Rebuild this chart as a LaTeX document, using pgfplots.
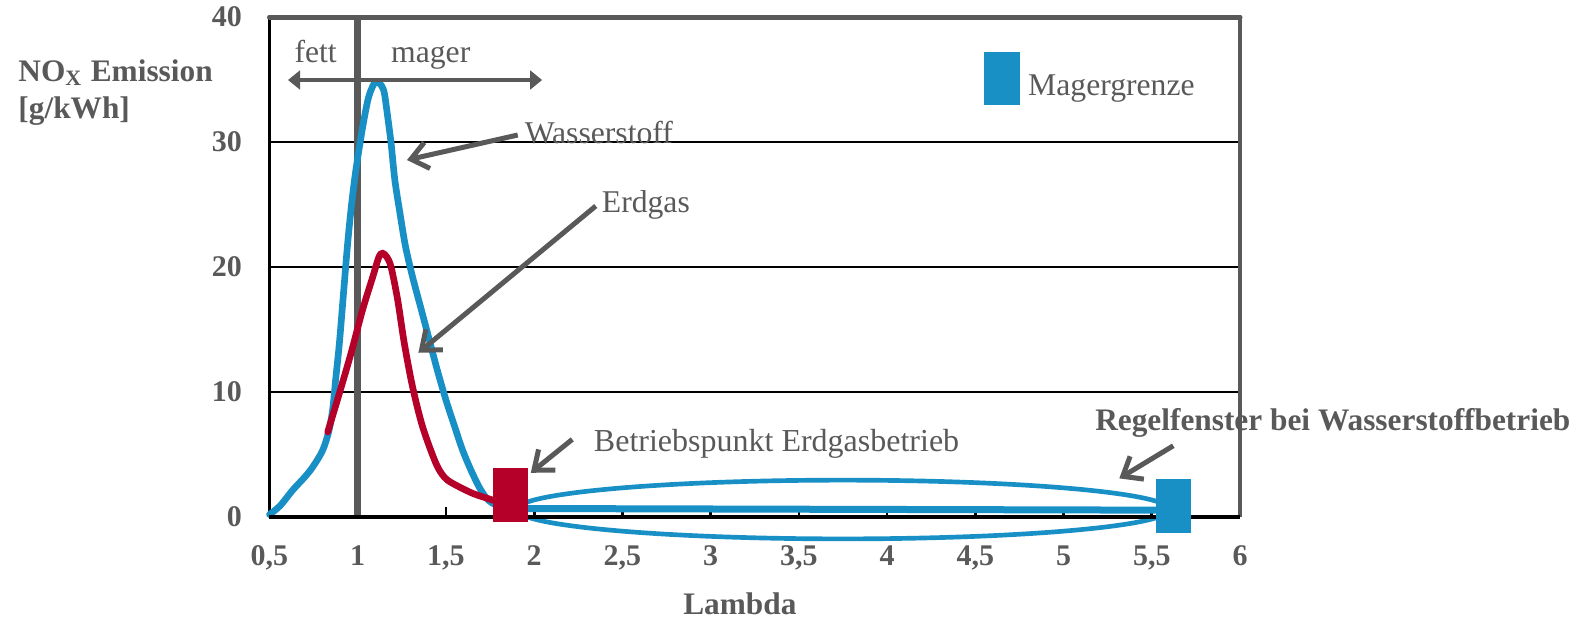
\documentclass[border=0pt]{standalone}
\usepackage{fontspec}
\setmainfont{Liberation Serif}
\usepackage{pgfplots}
\pgfplotsset{compat=1.18}
\usetikzlibrary{arrows.meta}
\definecolor{hblue}{RGB}{24,144,198}
\definecolor{ered}{RGB}{181,0,42}
\definecolor{tgray}{RGB}{89,89,89}
\begin{document}
\begin{tikzpicture}
\useasboundingbox (-80.85pt,-30.3pt) rectangle (397.05pt,155.1pt);
\begin{axis}[
  at={(0,0)}, anchor=south west,
  scale only axis, width=291.15pt, height=150pt,
  xmin=0.5, xmax=6, ymin=0, ymax=40,
  clip=false,
  axis line style={draw=none},
  xtick={0.5,1,1.5,2,2.5,3,3.5,4,4.5,5,5.5,6},
  xticklabels={{0,5},1,{1,5},2,{2,5},3,{3,5},4,{4,5},5,{5,5},6},
  ytick={0,10,20,30,40},
  yticklabels={0,10,20,30,40},
  tick pos=left,
  tick align=inside,
  major tick length=3pt,
  xtick style={black, line width=0.8pt},
  ytick style={draw=none},
  ymajorgrids, grid style={black, line width=0.7pt},
  tick label style={font=\fontsize{9}{10}\selectfont\bfseries, text=tgray},
  xticklabel style={anchor=north, yshift=-8.4pt, inner sep=0pt},
  yticklabel style={anchor=east, xshift=-8.1pt, inner sep=0pt},
  /pgf/number format/assume math mode=true,
]
% frame
\draw[black, line width=0.9pt] (rel axis cs:0,0) -- (rel axis cs:0,1);
\draw[tgray, line width=1.3pt] (rel axis cs:1,0) -- (rel axis cs:1,1);
\draw[tgray, line width=1.5pt, line cap=round] (rel axis cs:0,1) -- (rel axis cs:1,1);
% stoichiometric line
\draw[tgray, line width=2pt] (axis cs:1,0) -- (axis cs:1,40);
% Wasserstoff
\addplot[hblue, line width=2pt, smooth, line cap=round] coordinates {
(0.5,0.2) (0.56,0.9) (0.632,2.16) (0.70,3.2) (0.745,4.0) (0.80,5.3) (0.835,6.8)
(0.858,8.6) (0.875,11) (0.896,13.9) (0.92,18) (0.943,21.9) (0.965,25) (0.99,27.8)
(1.028,31.2) (1.06,33.5) (1.09,34.6) (1.113,34.8) (1.135,34.5) (1.151,33.9)
(1.17,32) (1.189,29.9) (1.21,27) (1.236,24.6) (1.27,21.7) (1.311,19.2) (1.36,16.6)
(1.405,14.2) (1.45,11.8) (1.5,9.36) (1.55,7.2) (1.594,5.36) (1.64,3.8) (1.688,2.4)
(1.73,1.5) (1.764,1.1) (1.82,0.75)};
% Erdgas
\addplot[ered, line width=2pt, smooth, line cap=round] coordinates {
(0.83,6.8) (0.896,9.9) (0.962,13.1) (1.028,16.6) (1.085,19.2) (1.12,20.8)
(1.141,21.1) (1.165,20.8) (1.189,20.0) (1.226,17.4) (1.264,13.9) (1.311,10.4)
(1.368,7.2) (1.443,4.3) (1.49,3.2) (1.537,2.7) (1.65,1.9) (1.764,1.36) (1.82,1.1)};
% Betriebspunkt Erdgas
\addplot[ered, only marks, mark=square*, mark size=7.9pt,
  mark options={solid, fill=ered, draw=ered, line width=0.2pt, xscale=0.65}] coordinates {(1.863,1.76)};
% Regelfenster ellipse
\draw[hblue, line width=1.4pt] (axis cs:3.75,0.6) ellipse [x radius=1.85, y radius=2.35];
\addplot[hblue, line width=2.1pt, line cap=round] coordinates {(1.95,0.68) (5.52,0.55)};
% Magergrenze H2
\addplot[hblue, only marks, mark=square*, mark size=7.9pt,
  mark options={solid, fill=hblue, draw=hblue, line width=0.2pt, xscale=0.65}] coordinates {(5.62,0.89)};
% legend marker
\addplot[hblue, only marks, mark=square*, mark size=7.9pt,
  mark options={solid, fill=hblue, draw=hblue, line width=0.2pt, xscale=0.65}] coordinates {(4.65,35.1)};
\node[anchor=base west, inner sep=0pt, text=tgray, font=\fontsize{9.5}{11}\selectfont] at (axis cs:4.796,33.76) {Magergrenze};
% bottom axis line
\draw[black, line width=1.1pt] (rel axis cs:0,0) -- (rel axis cs:1,0);
% fett / mager
\draw[tgray, line width=1.4pt, {Triangle[length=3.6pt,width=5.6pt]}-{Triangle[length=3.6pt,width=5.6pt]}] (axis cs:0.605,34.96) -- (axis cs:2.045,34.96);
\node[anchor=base west, inner sep=0pt, text=tgray, font=\fontsize{9.5}{11}\selectfont] at (axis cs:0.638,36.38) {fett};
\node[anchor=base west, inner sep=0pt, text=tgray, font=\fontsize{9.5}{11}\selectfont] at (axis cs:1.186,36.38) {mager};
% annotations
\draw[tgray, line width=1.5pt, -{Straight Barb[length=5pt,width=8pt]}] (axis cs:1.907,30.56) -- (axis cs:1.279,28.56);
\node[anchor=base west, inner sep=0pt, text=tgray, font=\fontsize{9.5}{11}\selectfont] at (axis cs:1.943,29.9) {Wasserstoff};
\draw[tgray, line width=1.5pt, -{Straight Barb[length=5pt,width=8pt]}] (axis cs:2.349,24.88) -- (axis cs:1.344,13.14);
\node[anchor=base west, inner sep=0pt, text=tgray, font=\fontsize{9.5}{11}\selectfont] at (axis cs:2.38,24.4) {Erdgas};
\draw[tgray, line width=1.5pt, -{Straight Barb[length=5pt,width=8pt]}] (axis cs:2.216,6.21) -- (axis cs:1.981,3.54);
\node[anchor=base west, inner sep=0pt, text=tgray, font=\fontsize{9.6}{11}\selectfont] at (axis cs:2.335,5.22) {Betriebspunkt Erdgasbetrieb};
\draw[tgray, line width=1.5pt, -{Straight Barb[length=5pt,width=8pt]}] (axis cs:5.622,5.70) -- (axis cs:5.316,3.09);
\node[anchor=base west, inner sep=0pt, text=tgray, font=\fontsize{9.4}{11}\selectfont\bfseries] at (axis cs:5.176,6.96) {Regelfenster bei Wasserstoffbetrieb};
\end{axis}
\node[anchor=base west, inner sep=0pt, text=tgray, font=\fontsize{9.4}{11}\selectfont\bfseries] at (-75.5pt,130.8pt) {NO\textsubscript{X} Emission};
\node[anchor=base west, inner sep=0pt, text=tgray, font=\fontsize{9.4}{11}\selectfont\bfseries] at (-75.5pt,119.6pt) {[g/kWh]};
\node[anchor=base, inner sep=0pt, text=tgray, font=\fontsize{9.4}{11}\selectfont\bfseries] at (141.1pt,-29.1pt) {Lambda};
\end{tikzpicture}
\end{document}
